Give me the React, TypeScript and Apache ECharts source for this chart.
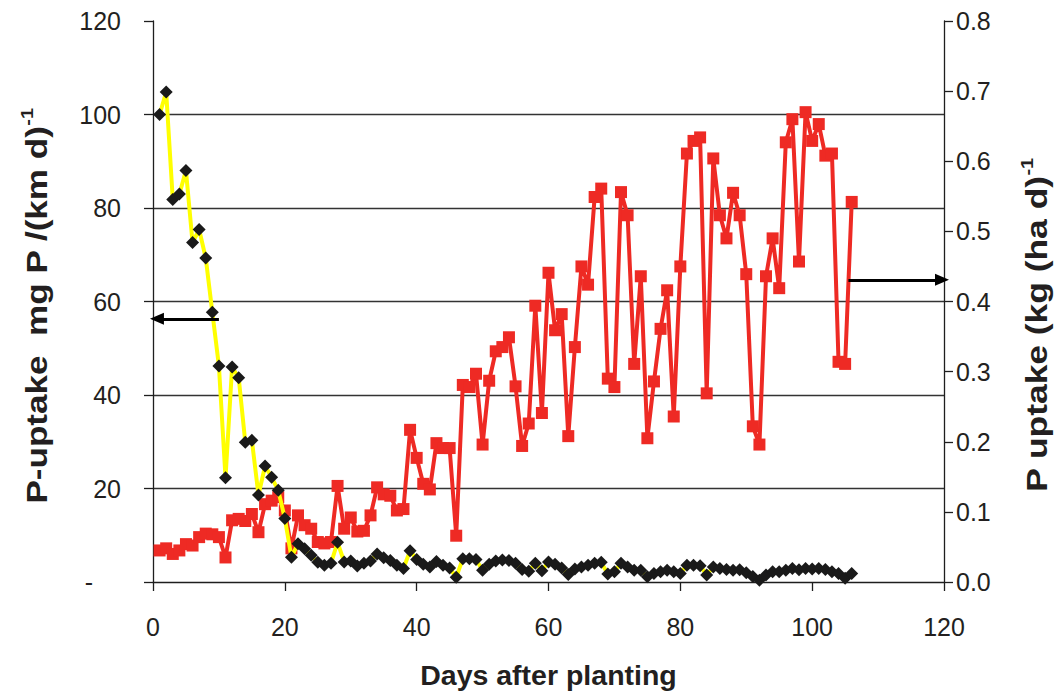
import React, { useEffect, useRef } from 'react';
import * as echarts from 'echarts';

// Days after planting (x values)
const days = [
  1, 2, 3, 4, 5, 6, 7, 8, 9, 10, 11, 12, 13, 14, 15, 16, 17, 18, 19, 20,
  21, 22, 23, 24, 25, 26, 27, 28, 29, 30, 31, 32, 33, 34, 35, 36, 37, 38, 39, 40,
  41, 42, 43, 44, 45, 46, 47, 48, 49, 50, 51, 52, 53, 54, 55, 56, 57, 58, 59, 60,
  61, 62, 63, 64, 65, 66, 67, 68, 69, 70, 71, 72, 73, 74, 75, 76, 77, 78, 79, 80,
  81, 82, 83, 84, 85, 86, 87, 88, 89, 90, 91, 92, 93, 94, 95, 96, 97, 98, 99, 100,
  101, 102, 103, 104, 105, 106,
];

// P-uptake, mg P /(km d) (left axis, black diamonds, yellow line)
const uptakePerKm = [
  100, 104.8, 81.8, 83, 88, 72.6, 75.4, 69.3, 57.7, 46.2,
  22.3, 46, 43.7, 29.9, 30.3, 18.6, 24.8, 22.4, 19.6, 13.6,
  5.3, 8.2, 7.1, 5.7, 4.2, 3.6, 4.0, 8.5, 4.3, 4.5,
  3.4, 4.0, 4.5, 6.0, 5.2, 4.6, 3.6, 2.9, 6.7, 4.8,
  3.8, 3.2, 4.4, 3.6, 3.0, 1.0, 5.0, 5.0, 4.8, 2.5,
  3.8, 4.5, 4.7, 4.6, 4.0, 2.7, 2.3, 4.0, 2.4, 4.3,
  3.8, 3.0, 1.6, 2.8, 3.2, 3.6, 4.0, 4.2, 1.7, 2.2,
  4.0, 3.2, 2.5, 2.5, 1.1, 1.8, 2.2, 2.5, 2.2, 1.8,
  3.6, 3.6, 3.5, 1.5, 3.2, 2.9, 2.7, 2.5, 2.6, 2.0,
  1.2, 0.4, 1.5, 2.2, 2.2, 2.5, 2.9, 2.6, 2.9, 2.8,
  2.9, 2.7, 2.2, 1.8, 0.8, 1.8,
];

// P uptake, kg (ha d)^-1 (right axis, red squares)
const uptakePerHa = [
  0.045, 0.048, 0.040, 0.045, 0.054, 0.052, 0.064, 0.069, 0.068, 0.064,
  0.035, 0.088, 0.090, 0.087, 0.097, 0.071, 0.111, 0.116, 0.121, 0.102,
  0.048, 0.095, 0.081, 0.076, 0.057, 0.055, 0.057, 0.137, 0.076, 0.092,
  0.072, 0.073, 0.095, 0.135, 0.125, 0.123, 0.102, 0.104, 0.217, 0.177,
  0.140, 0.132, 0.198, 0.191, 0.191, 0.066, 0.281, 0.278, 0.297, 0.196,
  0.287, 0.329, 0.335, 0.349, 0.279, 0.194, 0.226, 0.394, 0.241, 0.441,
  0.359, 0.382, 0.208, 0.335, 0.450, 0.424, 0.549, 0.561, 0.290, 0.278,
  0.556, 0.523, 0.311, 0.436, 0.205, 0.286, 0.361, 0.416, 0.236, 0.450,
  0.611, 0.629, 0.634, 0.269, 0.604, 0.523, 0.490, 0.555, 0.523, 0.439,
  0.222, 0.196, 0.436, 0.490, 0.419, 0.627, 0.660, 0.457, 0.670, 0.629,
  0.653, 0.608, 0.611, 0.314, 0.311, 0.542,
];

// Annotation arrows: [fromX, toX, y]
const leftArrow = [10, 0.6, 56.3];
const rightArrow = [105.5, 119.7, 0.431];

const xAxisTitle = 'Days after planting';
const leftTitle = 'P-uptake  mg P /(km d)';
const rightTitle = 'P uptake (kg (ha d)';

const FONT = "'Liberation Sans', Arial, sans-serif";
const TEXT = '#231f20';
const AXIS = '#1e1e1e';

export default function App() {
  const ref = useRef<HTMLDivElement>(null);

  useEffect(() => {
    if (!ref.current) return;
    const chart = echarts.init(ref.current, null, { renderer: 'svg' });

    const axisLine = { show: true, onZero: false, lineStyle: { color: AXIS, width: 1.3 } };
    const axisTick = { show: true, inside: false, length: 9, lineStyle: { color: AXIS, width: 1.3 } };
    const labelStyle = { fontFamily: FONT, fontSize: 25, color: TEXT };

    const titleRich = {
      a: { fontFamily: FONT, fontWeight: 'bold', fontSize: 30, lineHeight: 34, fill: TEXT },
      s: { fontFamily: FONT, fontWeight: 'bold', fontSize: 17, lineHeight: 34, verticalAlign: 'top', fill: TEXT },
    };

    const option: any = {
      animation: false,
      backgroundColor: '#ffffff',
      grid: { left: 153, right: 113, top: 21, bottom: 107, containLabel: false },
      xAxis: {
        type: 'value',
        min: 0,
        max: 120,
        interval: 20,
        name: xAxisTitle,
        nameLocation: 'middle',
        nameGap: 78,
        nameTextStyle: { fontFamily: FONT, fontWeight: 'bold', fontSize: 28.5, color: TEXT },
        axisLine,
        axisTick,
        axisLabel: { ...labelStyle, margin: 32 },
        splitLine: { show: false },
      },
      yAxis: [
        {
          type: 'value',
          position: 'left',
          min: 0,
          max: 120,
          interval: 20,
          axisLine,
          axisTick,
          axisLabel: {
            ...labelStyle,
            margin: 32,
            formatter: (v: number) => (v === 0 ? '{d|-}' : String(v)),
            rich: { d: { fontFamily: FONT, fontSize: 25, color: TEXT, padding: [0, 28, 0, 0] } },
          },
          splitLine: {
            show: true,
            showMinLine: false,
            showMaxLine: false,
            lineStyle: { color: '#333333', width: 1.4 },
          },
        },
        {
          type: 'value',
          position: 'right',
          min: 0,
          max: 0.8,
          interval: 0.1,
          axisLine,
          axisTick,
          axisLabel: { ...labelStyle, margin: 12, formatter: (v: number) => v.toFixed(1) },
          splitLine: { show: false },
        },
      ],
      series: [
        {
          name: 'P uptake (kg/ha/d)',
          type: 'line',
          yAxisIndex: 1,
          z: 2,
          data: days.map((d, i) => [d, uptakePerHa[i]]),
          symbol: 'rect',
          symbolSize: 12,
          showAllSymbol: true,
          itemStyle: { color: '#ee2a24' },
          lineStyle: { color: '#ee2a24', width: 4 },
          markLine: {
            silent: true,
            symbol: ['none', 'triangle'],
            symbolSize: [12, 14],
            label: { show: false },
            lineStyle: { color: '#000', width: 3, type: 'solid' },
            data: [[{ coord: [rightArrow[0], rightArrow[2]] }, { coord: [rightArrow[1], rightArrow[2]] }]],
          },
        },
        {
          name: 'P-uptake (mg P/km/d)',
          type: 'line',
          yAxisIndex: 0,
          z: 3,
          data: days.map((d, i) => [d, uptakePerKm[i]]),
          symbol: 'diamond',
          symbolSize: 13,
          showAllSymbol: true,
          itemStyle: { color: '#1a1a1a' },
          lineStyle: { color: '#ffff00', width: 4 },
          markLine: {
            silent: true,
            symbol: ['none', 'triangle'],
            symbolSize: [12, 14],
            label: { show: false },
            lineStyle: { color: '#000', width: 3, type: 'solid' },
            data: [[{ coord: [leftArrow[0], leftArrow[2]] }, { coord: [leftArrow[1], leftArrow[2]] }]],
          },
        },
      ],
      graphic: [
        {
          type: 'text',
          x: 36,
          y: 306,
          rotation: Math.PI / 2,
          scaleX: 1.17,
          style: {
            text: `{a|${leftTitle}}{s|-1}`,
            align: 'center',
            verticalAlign: 'middle',
            rich: titleRich,
          },
        },
        {
          type: 'text',
          x: 1036,
          y: 325,
          rotation: Math.PI / 2,
          scaleX: 1.18,
          style: {
            text: `{a|${rightTitle}}{s|-1}`,
            align: 'center',
            verticalAlign: 'middle',
            rich: titleRich,
          },
        },
      ],
    };

    chart.setOption(option);
    return () => chart.dispose();
  }, []);

  return (
    <div
      ref={ref}
      style={{ position: 'fixed', left: 0, top: 0, width: 1057, height: 694, background: '#fff' }}
    />
  );
}
